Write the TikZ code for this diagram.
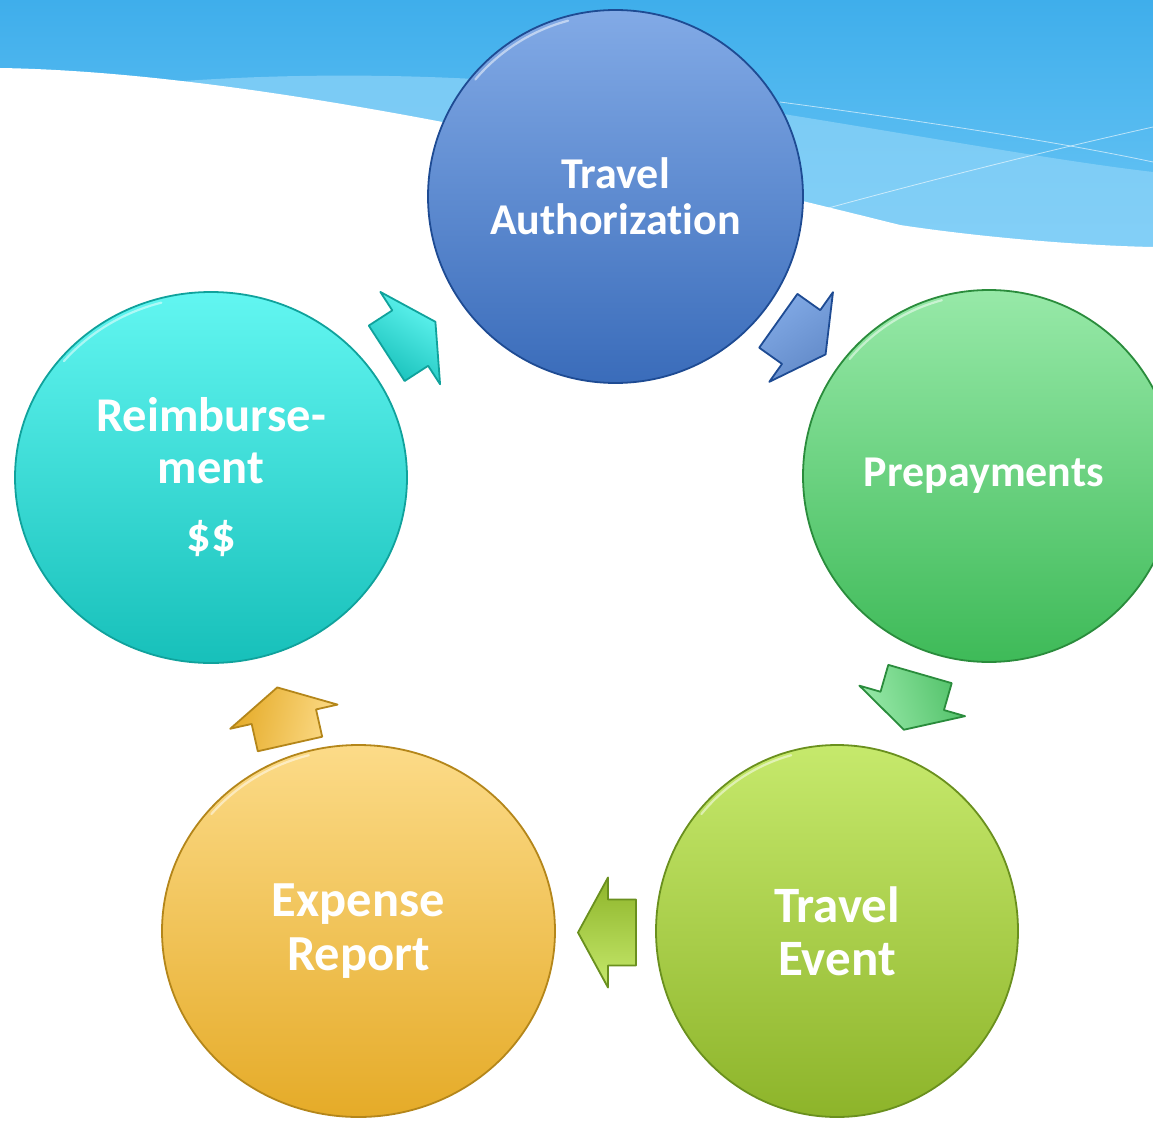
\documentclass[tikz,border=0pt]{standalone}
\usepackage{fontspec}
\setmainfont{Carlito}[Ligatures=NoCommon]
\usetikzlibrary{shapes.geometric}

% palette
\definecolor{skytop}{HTML}{3FAEEB}
\definecolor{skybot}{HTML}{6CC7F6}
\definecolor{skylite}{HTML}{8ED4F8}
\definecolor{blueA}{HTML}{82AAE6}
\definecolor{blueB}{HTML}{3A6CBA}
\definecolor{blueE}{HTML}{1E4B93}
\definecolor{greenA}{HTML}{97E9A8}
\definecolor{greenB}{HTML}{3EBA58}
\definecolor{greenE}{HTML}{2A8C3C}
\definecolor{limeA}{HTML}{C6E96C}
\definecolor{limeB}{HTML}{8DB42A}
\definecolor{limeE}{HTML}{6A901E}
\definecolor{goldA}{HTML}{FCDB88}
\definecolor{goldB}{HTML}{E5AB28}
\definecolor{goldE}{HTML}{B4861A}
\definecolor{tealA}{HTML}{62F6F1}
\definecolor{tealB}{HTML}{17C0BA}
\definecolor{tealE}{HTML}{10A29C}

\tikzset{
  stage/.style={ellipse, inner sep=0pt, line width=1.8pt, align=center,
    text=white, font=\bfseries},
  gloss/.style={white, opacity=.5, line width=2.2pt, line cap=round},
  arrblue/.style={top color=blueA, bottom color=blueB!80, draw=blueE},
  arrteal/.style={top color=tealA, bottom color=tealB, draw=tealE},
  arrgreen/.style={top color=greenA, bottom color=greenB!90, draw=greenE},
  arrlime/.style={top color=limeA, bottom color=limeB, draw=limeE},
  arrgold/.style={top color=goldA, bottom color=goldB, draw=goldE},
  % block arrow: tail edge centred on the origin, pointing along +x
  pics/cyc arrow/.style 2 args={code={
    \path[#1, line width=1.8pt, line join=round, shading angle=#2]
      (0,33) -- (28,33) -- (28,55) -- (58,0) -- (28,-55) -- (28,-33)
      -- (0,-33) -- cycle;
  }},
}

\begin{document}
\begin{tikzpicture}[x=1pt, y=1pt]
\useasboundingbox (0,0) rectangle (1153,-1121);
\fill[white] (0,0) rectangle (1153,-1121);

% sky band with a white wave below it
\shade[top color=skytop, bottom color=skybot] (0,0) rectangle (1153,-260);
\fill[skylite, opacity=.7]
  (170,-82) .. controls (300,-72) and (500,-70) .. (720,-104)
  .. controls (900,-132) and (1050,-160) .. (1153,-172)
  -- (1153,-262) -- (170,-262) -- cycle;
\draw[white, opacity=.6, line width=.8pt]
  (780,-102) .. controls (900,-118) and (1050,-140) .. (1153,-162);
\draw[white, opacity=.6, line width=.8pt]
  (810,-213) .. controls (930,-180) and (1050,-150) .. (1153,-127);
\fill[white]
  (0,-68) .. controls (250,-72) and (600,-150) .. (900,-225)
  .. controls (1000,-240) and (1100,-246) .. (1153,-247)
  -- (1153,-265) -- (0,-265) -- cycle;

% stages
\node[stage, minimum width=375pt, minimum height=373pt,
      top color=blueA, bottom color=blueB, draw=blueE,
      font=\bfseries\fontsize{44}{46}\selectfont]
  (ta) at (615.5,-196.5) {Travel\\Authorization};
\node[stage, minimum width=372pt, minimum height=372pt,
      top color=greenA, bottom color=greenB, draw=greenE,
      font=\bfseries\fontsize{44}{50}\selectfont]
  (pp) at (989,-476) {Prepayments\hspace*{10pt}};
\node[stage, minimum width=362pt, minimum height=372pt,
      top color=limeA, bottom color=limeB, draw=limeE,
      font=\bfseries\fontsize{51}{53}\selectfont]
  (te) at (837,-931) {Travel\\Event};
\node[stage, minimum width=393pt, minimum height=372pt,
      top color=goldA, bottom color=goldB, draw=goldE,
      font=\bfseries\fontsize{50.5}{54}\selectfont]
  (er) at (358.5,-931) {Expense\\Report};
\node[stage, minimum width=392pt, minimum height=371pt,
      top color=tealA, bottom color=tealB, draw=tealE,
      font=\bfseries\fontsize{48.5}{52}\selectfont]
  (rb) at (211,-477.5) {Reimburse-\\ment\\[16pt]\$\$};

% glossy rims
\foreach \n/\rx/\ry in {ta/183/182, pp/182/182, te/177/182, er/192/182, rb/192/181}{
  \begin{scope}[shift={(\n.center)}]
    \draw[gloss] (140:\rx\space and \ry) arc[start angle=140, end angle=105,
      x radius=\rx, y radius=\ry];
  \end{scope}
}

% cycle arrows between the stages
\pic[rotate=-35.4] at (778.3,-320.8) {cyc arrow={arrblue}{35.4}};
\pic[rotate=-106.1] at (920,-674) {cyc arrow={arrgreen}{106.1}};
\pic[rotate=180] at (636,-932.5) {cyc arrow={arrlime}{180}};
\pic[rotate=102.7] at (290,-744) {cyc arrow={arrgold}{-102.7}};
\pic[rotate=32.9] at (386.7,-353.3) {cyc arrow={arrteal}{-32.9}};
\end{tikzpicture}
\end{document}
